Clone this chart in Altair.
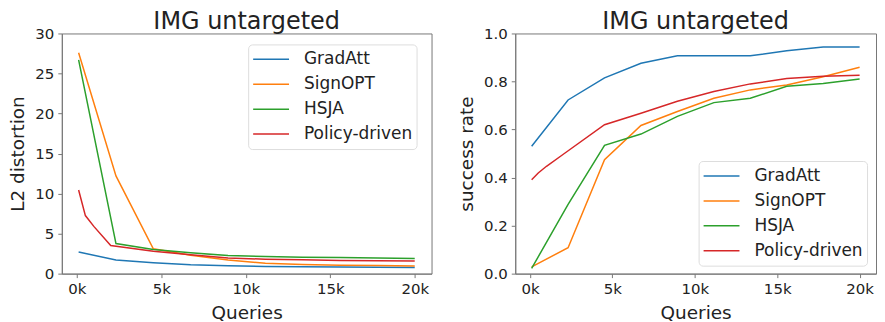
import altair as alt
import pandas as pd

methods = ["GradAtt", "SignOPT", "HSJA", "Policy-driven"]
colors = ["#1f77b4", "#ff7f0e", "#2ca02c", "#d62728"]

queries = [100, 2311, 4522, 6733, 8944, 11156, 13367, 15578, 17789, 20000]
queries_policy = [100, 500, 1000, 2000, 4522, 6733, 8944, 11156, 13367, 15578, 17789, 20000]

# L2 distortion
l2_gradatt = [2.7, 1.7, 1.35, 1.1, 0.98, 0.9, 0.85, 0.82, 0.79, 0.77]
l2_signopt = [27.6, 12.2, 3.1, 2.3, 1.7, 1.3, 1.15, 1.05, 1.0, 0.95]
l2_hsja = [26.7, 3.76, 3.0, 2.6, 2.25, 2.15, 2.05, 2.0, 1.95, 1.9]
l2_policy = [10.45, 7.25, 5.9, 3.5, 2.8, 2.35, 1.95, 1.8, 1.72, 1.65, 1.6, 1.57]

# success rate
sr_gradatt = [0.53, 0.723, 0.815, 0.876, 0.907, 0.907, 0.907, 0.928, 0.944, 0.944]
sr_signopt = [0.028, 0.108, 0.474, 0.617, 0.675, 0.73, 0.765, 0.785, 0.82, 0.859]
sr_hsja = [0.022, 0.288, 0.534, 0.581, 0.655, 0.712, 0.73, 0.78, 0.792, 0.81]
sr_policy = [0.391, 0.419, 0.447, 0.496, 0.62, 0.668, 0.718, 0.758, 0.79, 0.812, 0.822, 0.826]

x_ticks = [0, 5000, 10000, 15000, 20000]
l2_ticks = [0, 5, 10, 15, 20, 25, 30]
sr_ticks = [0.0, 0.2, 0.4, 0.6, 0.8, 1.0]


def build(series):
    rows = []
    for m, (xs, ys) in zip(methods, series):
        for i, (x, y) in enumerate(zip(xs, ys)):
            rows.append({"Queries": x, "value": y, "method": m, "order": i})
    return pd.DataFrame(rows)


df_l2 = build([(queries, l2_gradatt), (queries, l2_signopt), (queries, l2_hsja), (queries_policy, l2_policy)])
df_sr = build([(queries, sr_gradatt), (queries, sr_signopt), (queries, sr_hsja), (queries_policy, sr_policy)])

FONT = "DejaVu Sans"
TXT = "#222222"
AXC = "#777777"

x_enc = alt.X(
    "Queries:Q",
    scale=alt.Scale(domain=[-895, 20995], nice=False, zero=False),
    axis=alt.Axis(values=x_ticks, labelExpr="datum.value/1000 + 'k'", title="Queries"),
)


def panel(df, ytitle, ydomain, yticks, yfmt, lx, ly, w):
    return (
        alt.Chart(df)
        .mark_line(strokeWidth=1.5, clip=True)
        .encode(
            x=x_enc,
            y=alt.Y(
                "value:Q",
                scale=alt.Scale(domain=ydomain, nice=False),
                axis=alt.Axis(values=yticks, format=yfmt, title=ytitle),
            ),
            color=alt.Color(
                "method:N",
                scale=alt.Scale(domain=methods, range=colors),
                sort=methods,
                legend=alt.Legend(
                    title=None,
                    orient="none",
                    legendX=lx,
                    legendY=ly,
                    symbolType="stroke",
                    symbolSize=1296,
                    symbolStrokeWidth=1.5,
                    labelFontSize=17,
                    labelFont=FONT,
                    labelColor=TXT,
                    labelOffset=14,
                    clipHeight=22,
                    rowPadding=3,
                    padding=4,
                    fillColor="white",
                    strokeColor="#dddddd",
                    cornerRadius=4,
                ),
            ),
            order="order:Q",
        )
        .properties(
            width=w,
            height=241,
            title=alt.TitleParams("IMG untargeted", fontSize=24, font=FONT, fontWeight="normal", color=TXT, offset=-8),
        )
    )


left = panel(df_l2, "L2 distortion", [0, 30], l2_ticks, "d", 187, 11, 371)
right = panel(df_sr, "success rate", [0, 1], sr_ticks, ".1f", 184, 128, 362)

chart = (
    alt.hconcat(left, right, spacing=24)
    .resolve_scale(color="independent")
    .properties(padding={"left": 0, "top": 1, "right": 0, "bottom": 0}, background="white")
    .configure_view(stroke=AXC, strokeWidth=1)
    .configure_axis(
        grid=False,
        labelFont=FONT,
        titleFont=FONT,
        labelFontSize=15,
        titleFontSize=18.5,
        titleFontWeight="normal",
        labelColor=TXT,
        titleColor=TXT,
        domainColor=AXC,
        tickColor=AXC,
        tickSize=4,
        labelPadding=4,
        titlePadding=7,
    )
)

chart.save("out.html", embed_options={"renderer": "svg", "actions": False})
